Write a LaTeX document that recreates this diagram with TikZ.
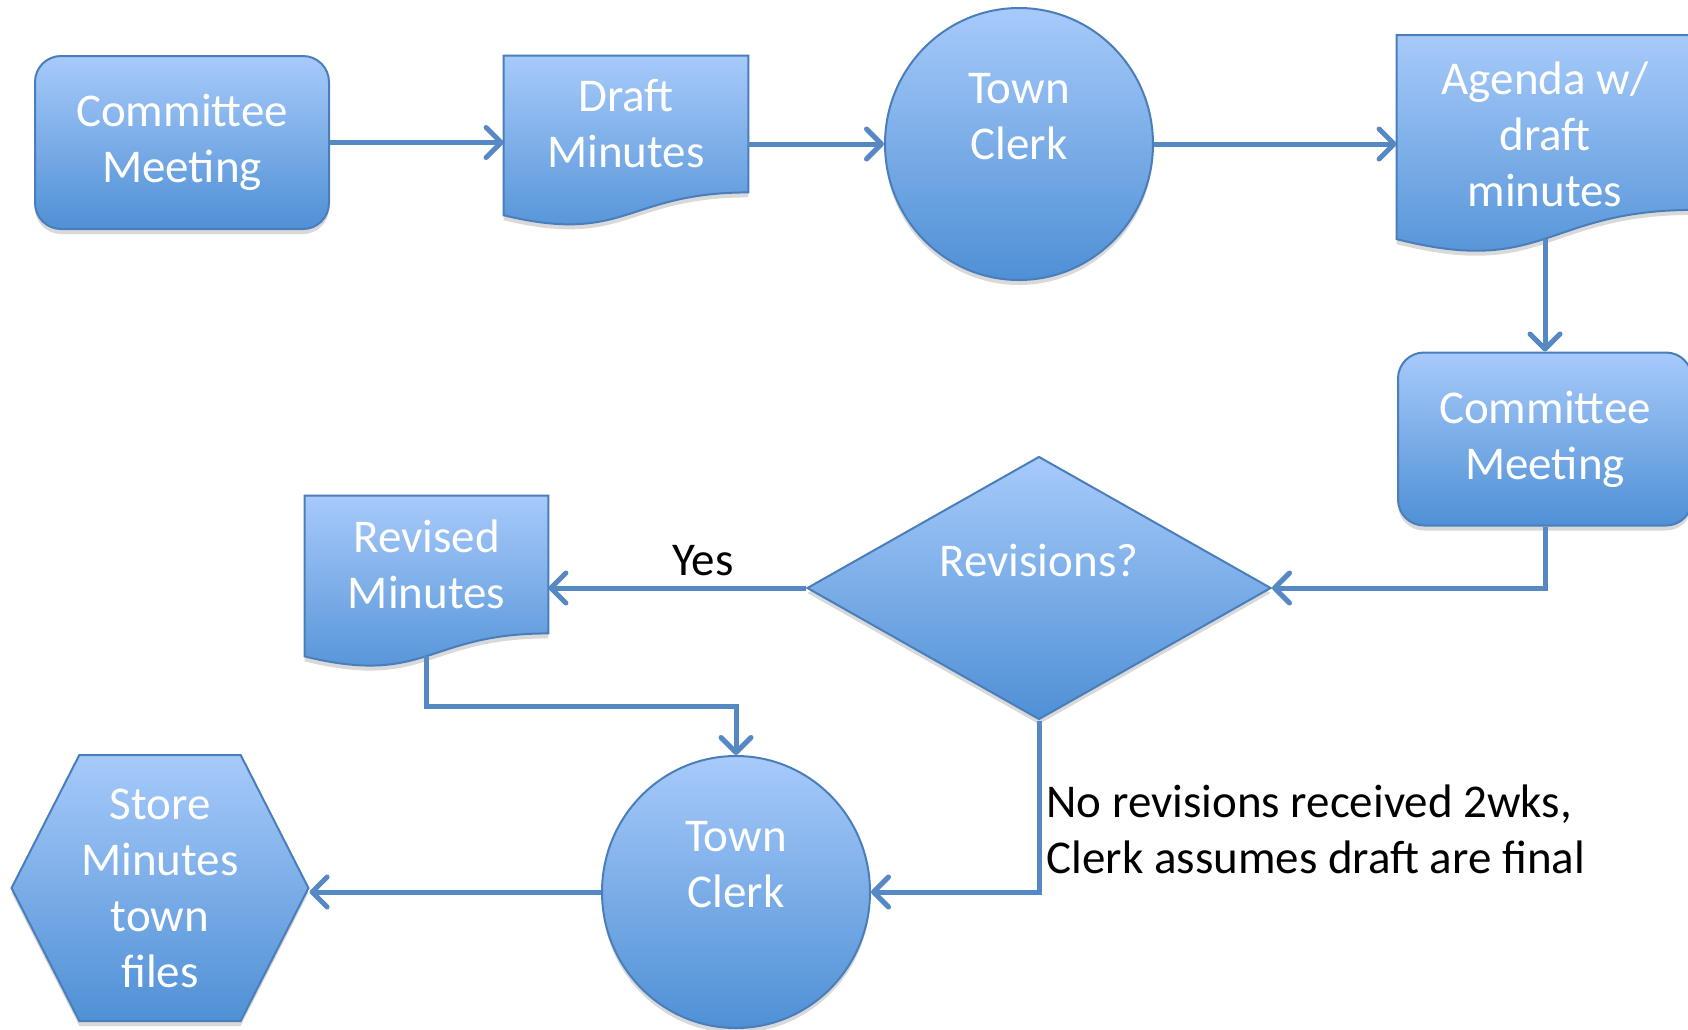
\documentclass[tikz,border=0pt]{standalone}
\usepackage{fontspec}
\setmainfont{Carlito}
\usetikzlibrary{shapes.geometric,shapes.symbols,arrows.meta,calc,shadows,backgrounds}

\definecolor{shapetop}{HTML}{A7CAFA}
\definecolor{shapebot}{HTML}{4F90D5}
\definecolor{shapeline}{HTML}{4A7EBB}
\definecolor{linkblue}{HTML}{5689C4}

\newcommand{\boxfont}{\fontsize{23.5}{28}\selectfont}

\tikzstyle{blueshape} = [draw=shapeline, line width=1pt, top color=shapetop, bottom color=shapebot, drop shadow={shadow xshift=0pt, shadow yshift=-2.5pt, opacity=0.3}]
\tikzstyle{meeting} = [blueshape, rectangle, rounded corners=13pt, minimum width=147pt, minimum height=86.5pt, text=white, font=\boxfont, align=center]
\tikzstyle{doc} = [rectangle, inner sep=0pt, text=white, font=\boxfont, align=center]
\tikzstyle{clerk} = [blueshape, ellipse, inner sep=1pt, minimum width=134pt, minimum height=136pt, text=white, font=\boxfont, align=center]
\tikzstyle{decision} = [blueshape, diamond, aspect=1.76, inner sep=1pt, minimum width=232pt, minimum height=131.5pt, text=white, font=\boxfont, align=center]
\tikzstyle{store} = [blueshape, signal, signal to=west and east, signal pointer angle=126, inner sep=1pt, minimum width=148pt, minimum height=133pt, text=white, font=\boxfont, align=center]
\tikzstyle{arrow} = [draw=linkblue, line width=2.5pt, -{Straight Barb[length=7.5pt, width=15pt, round]}]
\tikzstyle{note} = [text=black, font=\boxfont, inner sep=2.5pt]

% wavy outline under a document node, plus the point where its foot is
\newcommand{\docoutline}[1]{%
  \path[blueshape] let \p1 = ($(#1.north)-(#1.south)$) in
    (#1.north west) -- (#1.north east) -- (#1.south east)
    .. controls (#1.south) and ($(#1.south)+(0pt,-0.384*\y1)$)
    .. ($(#1.south west)+(0pt,-0.167*\y1)$) -- cycle;
  \path let \p1 = ($(#1.north)-(#1.south)$) in
    coordinate (#1-foot) at ($(#1.south)+(0pt,-0.165*\y1)$);}

\begin{document}
\begin{tikzpicture}[x=0.5pt, y=-0.5pt, node distance=200pt]
    \useasboundingbox (0,0) rectangle (1688,1029);

    \node (cm1) [meeting] at (182,142.5) {Committee\\Meeting};
    \node (draft) [doc, right of=cm1, xshift=22pt, yshift=9.25pt, minimum width=122pt, minimum height=68pt] {Draft\\Minutes};
    \node (tc1) [clerk, right of=draft, xshift=-3.5pt, yshift=-10pt] {Town\\Clerk\\\mbox{}};
    \node (agenda) [doc, right of=tc1, xshift=63pt, yshift=10.75pt, minimum width=148pt, minimum height=87pt] {\rule{0pt}{28.5pt}Agenda w/\\draft\\minutes};
    \node (cm2) [meeting, below of=agenda, yshift=41.75pt] {Committee\\Meeting};
    \node (dec) [decision, left of=cm2, xshift=-53pt, yshift=-74.5pt] {Revisions?\\\mbox{}};
    \node (revised) [doc, left of=dec, xshift=-106.25pt, yshift=11.75pt, minimum width=121.5pt, minimum height=68.5pt] {Revised\\Minutes};
    \node (tc2) [clerk, below of=dec, xshift=-151.5pt, yshift=48pt] {Town\\Clerk\\\mbox{}};
    \node (files) [store, left of=tc2, xshift=-88pt, yshift=2pt] {Store\\Minutes\\town\\files};

    \begin{pgfonlayer}{background}
        \docoutline{draft}
        \docoutline{agenda}
        \docoutline{revised}
    \end{pgfonlayer}

    \draw [arrow] (cm1.east) -- (cm1.east -| draft.west);
    \draw [arrow] (draft.east |- tc1) -- (tc1);
    \draw [arrow] (tc1) -- (tc1 -| agenda.west);
    \draw [arrow] (agenda-foot) -- (cm2);
    \draw [arrow] (cm2) |- (dec);
    \draw [arrow] (dec) -- node[note, pos=0.4, above, inner sep=5pt] {Yes} (dec -| revised.east);
    \draw [arrow] (revised-foot) -- ++(0,50) -| (tc2);
    \draw [arrow] (dec) |- node[note, pos=0.317, anchor=west, align=left] {No revisions received 2wks,\\Clerk assumes draft are final} (tc2);
    \draw [arrow] (tc2) -- (tc2 -| files.east);
\end{tikzpicture}
\end{document}
